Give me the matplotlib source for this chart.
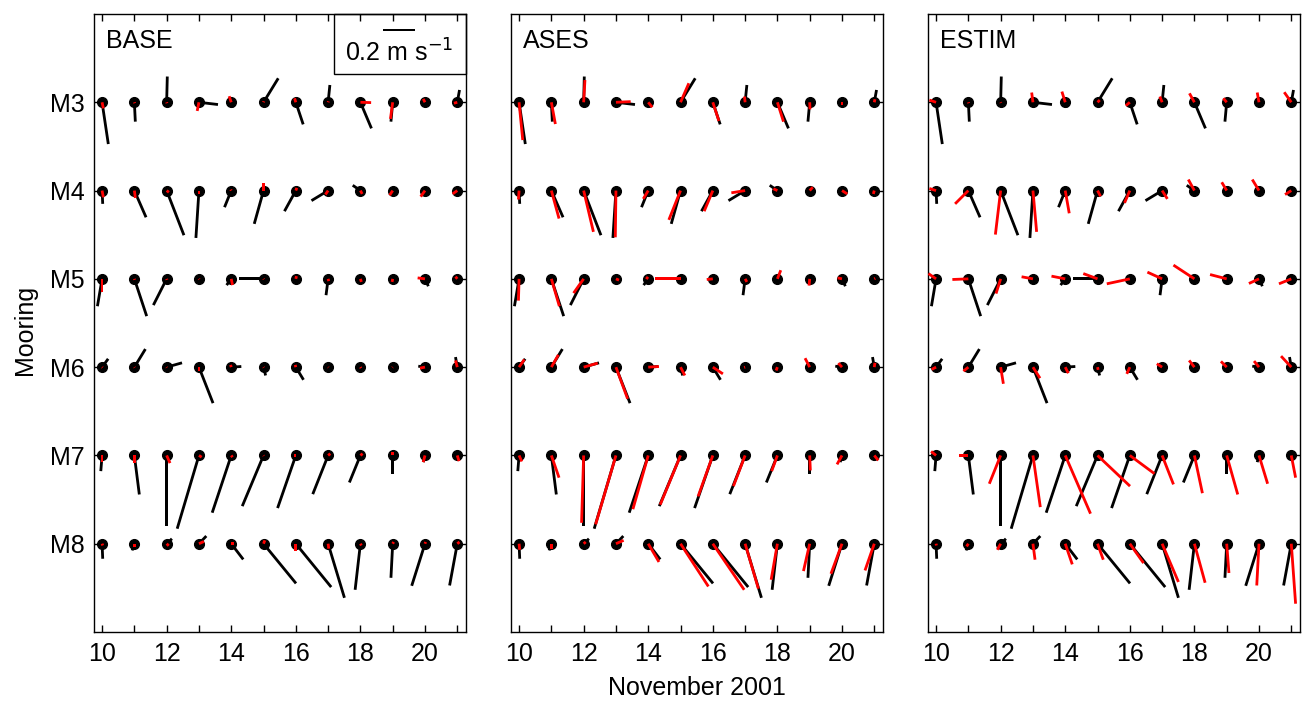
import numpy as np
import matplotlib.pyplot as plt
from matplotlib.patches import Rectangle

plt.rcParams['font.family'] = ['Liberation Sans', 'DejaVu Sans']
plt.rcParams['font.size'] = 18

days = [10, 11, 12, 13, 14, 15, 16, 17, 18, 19, 20, 21]
moorings = ['M3', 'M4', 'M5', 'M6', 'M7', 'M8']
mooring_pos = [3, 4, 5, 6, 7, 8]
day_labels = ['10', '', '12', '', '14', '', '16', '', '18', '', '20', '']
panel_names = ['BASE', 'ASES', 'ESTIM']

# observed currents (black sticks), cm/s, rows = moorings M3..M8, columns = days
obs_u = [
    [3.9, 0.6, 0.4, 11.9, 1.7, 9.2, 4.6, 1.1, 6.9, -1.1, 0.3, 1.4],
    [0.4, 7.3, 10.8, -1.9, -4.2, -5.8, -7.1, -10.4, -4.8, 0.2, 0.3, 0.3],
    [-2.9, 7.7, -8.3, 0.6, -2.9, -15.2, 0.3, -1.3, 0.3, -1.1, 2.1, 0.3],
    [3.8, 6.9, 9.6, 8.8, 6.3, 1.3, 4.8, 0.3, 0.3, 0.3, -4.2, -1.1],
    [-0.8, 3.1, 0.0, -13.6, -11.9, -13.3, -11.4, -9.6, -6.9, 0.0, -1.1, 0.3],
    [0.4, -1.4, 3.3, 4.6, 7.5, 20.3, 22.1, 10.2, -3.3, -1.1, -8.3, -4.8],
]
obs_v = [
    [-26.1, -12.1, 16.1, -1.4, -3.1, 15.0, -13.8, 10.8, -16.3, -12.1, -0.6, 7.7],
    [-8.3, -16.7, -27.9, -29.6, -10.4, -20.8, -12.9, -6.3, 3.3, -0.6, -0.6, -0.3],
    [-17.1, -23.3, -16.4, -0.6, -3.9, 0.0, -0.6, -10.2, -0.3, -3.1, -4.6, -0.3],
    [5.2, 11.3, 2.7, -22.5, 0.4, -5.2, -7.9, -0.3, -0.3, -0.3, 0.6, 6.3],
    [-9.8, -24.4, -44.2, -45.8, -35.8, -31.7, -32.9, -24.2, -16.9, -11.9, -4.2, -1.9],
    [-9.4, -4.2, 3.1, 4.8, -9.8, -24.8, -27.1, -33.8, -28.8, -21.3, -26.3, -26.1],
]

# model currents (red sticks), cm/s
base_u = [
    [0.8, 0.2, 0.2, -1.1, -1.3, 0.2, -0.8, 0.2, 6.7, -1.4, -1.1, -2.1],
    [0.8, 0.6, 1.4, 0.0, -0.3, 0.0, 0.6, -1.7, 1.1, -1.9, -2.7, -2.9],
    [0.0, 0.2, 0.2, 0.2, 0.8, 0.2, 0.4, 0.4, 0.6, -0.4, -4.6, -1.1],
    [0.3, 0.2, 0.2, 0.0, -0.4, 0.2, -0.4, 0.2, 0.4, -0.2, -3.1, -1.1],
    [0.0, 0.0, 2.1, 1.7, 0.8, 0.2, -1.4, 1.4, 1.4, 0.0, -1.1, 1.1],
    [0.4, 0.0, 1.3, 3.1, 1.7, 0.8, 0.0, 0.4, 0.6, 0.6, 0.4, 1.4],
]
base_v = [
    [-3.8, -0.6, -0.6, -5.4, 3.8, 0.6, 2.5, 0.6, -0.2, -10.4, 2.1, -0.6],
    [-4.2, -4.6, -1.1, -2.1, 0.6, 4.8, 1.7, -2.5, -2.1, -2.9, -3.8, -2.1],
    [-8.3, -0.6, -0.6, -0.3, -3.9, -0.3, 1.7, -1.4, -1.9, -1.9, 0.6, 1.4],
    [-0.3, -0.3, -0.3, -2.5, 1.4, -0.3, 1.4, -0.2, -0.6, -0.2, -0.6, 4.2],
    [-4.2, -4.8, -4.8, -1.1, -1.1, -0.3, 0.0, 1.1, 1.1, 2.1, -4.2, -3.6],
    [-1.1, -2.1, -1.3, 1.4, 0.0, 2.1, -4.6, -3.1, -1.1, 1.1, 1.1, 1.1],
]
ases_u = [
    [2.3, 2.5, 0.8, 9.2, 2.5, 5.2, 3.8, -0.4, 3.8, 0.2, 0.0, 0.4],
    [-0.4, 4.8, 6.1, -0.4, -3.1, -7.3, -5.4, -8.6, -2.5, 1.9, 3.3, -0.6],
    [-0.4, 5.0, -6.3, 1.9, -1.4, -16.1, -3.8, 1.1, 2.1, -0.4, -2.7, 0.6],
    [3.3, 4.4, 8.8, 7.3, 6.7, 2.7, 6.3, -0.6, -0.8, -2.9, -2.3, 0.4],
    [1.7, 4.8, -1.3, -12.7, -9.6, -12.7, -9.2, -7.3, -3.6, 0.4, -3.1, 2.5],
    [0.4, 0.0, 1.3, 4.8, 6.7, 17.4, 19.6, 8.3, -3.9, -3.9, -6.9, -5.8],
]
ases_v = [
    [-23.6, -13.6, 13.9, 0.4, -3.1, 11.9, -11.7, 3.6, -12.1, -4.4, -1.7, 1.9],
    [-5.6, -17.5, -25.8, -29.2, -5.2, -18.3, -12.9, -1.4, 1.1, 2.1, -2.1, -2.1],
    [-13.6, -17.1, -8.9, -0.8, 1.1, 0.0, -0.4, -1.9, 5.4, -4.2, 0.6, 0.3],
    [4.8, 7.7, 2.5, -19.8, 0.4, -5.2, -4.2, -0.2, -2.1, 5.6, 2.5, 2.7],
    [-3.8, -13.9, -42.1, -43.1, -33.6, -30.8, -25.6, -19.2, -9.8, -9.4, -5.6, -3.1],
    [-3.8, -3.1, 1.1, 2.1, -11.4, -26.7, -28.8, -28.1, -22.5, -17.1, -18.8, -16.7],
]
estim_u = [
    [-4.2, 0.2, 0.2, -0.8, -2.1, 1.4, -2.5, -1.4, -3.1, -2.1, -1.1, -4.4],
    [-4.2, -8.3, -3.3, 2.3, 2.5, 1.9, -3.3, 3.3, -3.8, -3.1, -4.2, -3.9],
    [-4.8, -10.0, -2.9, -7.1, -8.6, -8.9, -14.4, -9.2, -13.1, -10.4, -6.3, -7.7],
    [-2.7, -3.1, 1.7, 4.4, 1.9, 0.4, -1.9, -3.3, -3.3, -3.6, -3.1, -6.4],
    [-3.1, -5.8, -7.1, 4.6, 15.8, 20.3, 15.4, 7.1, 5.0, 6.9, 5.4, 2.7],
    [0.2, -1.1, -2.1, 1.3, 4.4, 3.6, 8.6, 10.2, 6.7, 1.4, -1.4, 2.7],
]
estim_v = [
    [1.4, -0.6, -0.4, 6.1, 6.7, 1.4, -2.1, 3.6, 5.6, 2.5, 6.1, 6.3],
    [1.3, -8.3, -27.5, -25.8, -14.2, -3.6, -7.7, -5.2, 6.9, 5.2, 6.9, -2.5],
    [3.3, -0.4, -9.2, 1.3, 1.7, 3.3, -3.1, 4.2, 8.6, 2.7, -2.9, -3.1],
    [-1.4, -2.5, -10.4, -6.9, -3.8, -1.7, -4.2, 2.1, 4.2, 3.6, 3.8, 6.9],
    [2.5, 0.0, -17.7, -32.3, -36.4, -19.2, -11.4, -18.1, -23.6, -24.4, -17.7, -13.9],
    [-1.1, -1.7, -3.8, -10.0, -12.9, -10.0, -12.1, -23.9, -24.4, -18.3, -26.1, -37.5],
]

model_u = [base_u, ases_u, estim_u]
model_v = [base_v, ases_v, estim_v]

W, H = 1311, 704
fig = plt.figure(figsize=(W / 100, H / 100), dpi=100)
lefts = [94, 511, 928]

X, Y = np.meshgrid(days, mooring_pos)
# headless quiver = stick plot, lengths in screen units so u/v keep true direction
stick = dict(angles='uv', scale_units='inches', scale=62.5, units='dots',
             width=2.8, headwidth=0, headlength=0, headaxislength=0,
             minlength=0, pivot='tail')

for k in range(3):
    ax = fig.add_axes([lefts[k] / W, 72 / H, 372 / W, 618 / H])
    ax.plot(X.ravel(), Y.ravel(), 'o', color='k', ms=7, zorder=2)
    q = ax.quiver(X, Y, np.array(obs_u), np.array(obs_v), color='k', zorder=3, **stick)
    ax.quiver(X, Y, np.array(model_u[k]), np.array(model_v[k]), color='r', zorder=4, **stick)

    ax.set_xlim(9.75, 21.27)
    ax.set_ylim(9, 2)
    ax.set_xticks(days)
    ax.set_xticklabels(day_labels)
    ax.set_yticks(mooring_pos)
    if k == 0:
        ax.set_yticklabels(moorings)
    else:
        ax.set_yticklabels([])
    ax.tick_params(direction='in', top=True, right=True, length=5, width=1, pad=7)
    for s in ax.spines.values():
        s.set_linewidth(1.0)

    ax.text(0.032, 0.945, panel_names[k], transform=ax.transAxes, ha='left', va='baseline')

    if k == 0:
        ax.add_patch(Rectangle((0.645, 0.903), 0.355, 0.097, transform=ax.transAxes,
                               fill=False, edgecolor='k', linewidth=1.0, zorder=5, clip_on=False))
        ax.quiverkey(q, 0.82, 0.974, 20, r'0.2 m s$^{-1}$', labelpos='S',
                     coordinates='axes', labelsep=0.09, fontproperties={'size': 18})

fig.text(25 / W, 1 - 330 / H, 'Mooring', rotation=90, ha='center', va='center')
fig.text(697 / W, 1 - 688 / H, 'November 2001', ha='center', va='center')

fig.savefig('out.png', dpi=100)
